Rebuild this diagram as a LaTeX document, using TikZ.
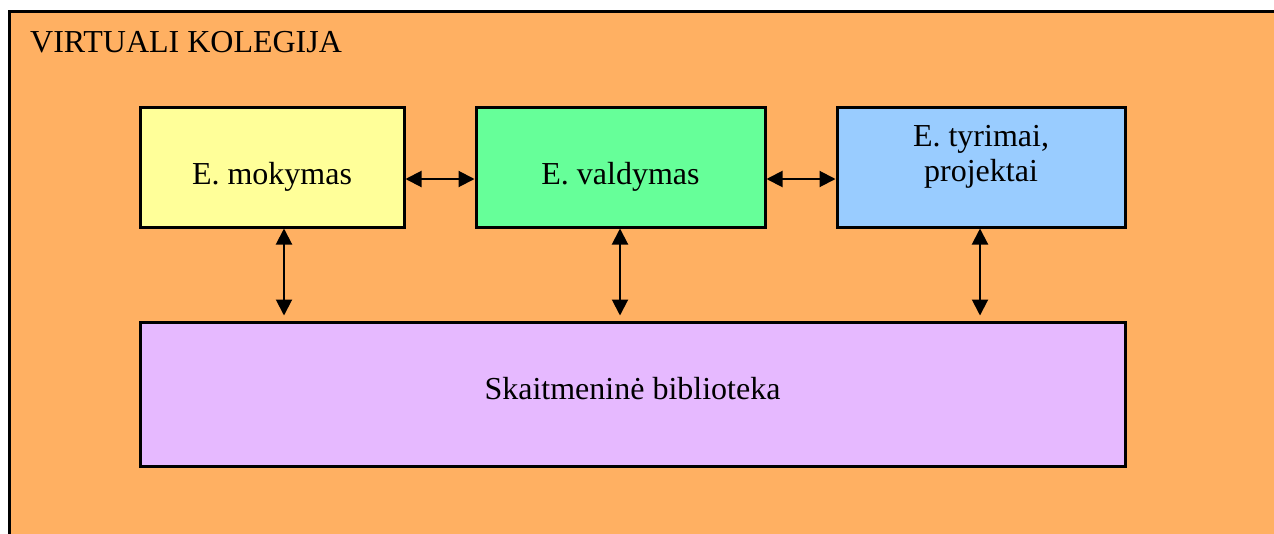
\documentclass[tikz,border=0pt]{standalone}
\usepackage{fontspec}
\setmainfont{Liberation Serif}
\usetikzlibrary{arrows.meta}

\definecolor{kolegija}{HTML}{FFB062}
\definecolor{mokymasfill}{HTML}{FFFF99}
\definecolor{valdymasfill}{HTML}{66FF99}
\definecolor{tyrimaifill}{HTML}{99CCFF}
\definecolor{bibliotekafill}{HTML}{E6B9FF}

\begin{document}
\begin{tikzpicture}[x=1pt, y=-1pt,
    block/.style={draw, line width=3pt, rectangle, inner sep=0pt,
        font=\fontsize{32}{35}\selectfont, align=center},
    link/.style={{Triangle[length=16pt,width=16pt]}-{Triangle[length=16pt,width=16pt]},
        line width=2pt}]
    \useasboundingbox (0,0) rectangle (1274,533);

    % Frame
    \draw[fill=kolegija, line width=3pt] (9,11) rectangle (1300,560);
    \node[anchor=base west, inner sep=0pt, font=\fontsize{32}{35}\selectfont] (title) at (30,52) {VIRTUALI KOLEGIJA};

    % Boxes
    \node[block, fill=mokymasfill, minimum width=264pt, minimum height=120pt,
        text height=34pt, text depth=0pt] (mokymas) at (272,167) {E. mokymas};
    \node[block, fill=valdymasfill, minimum width=289pt, minimum height=120pt,
        text height=34pt, text depth=0pt] (valdymas) at (620.5,167) {E. valdymas};
    \node[block, fill=tyrimaifill, minimum width=288pt, minimum height=120pt,
        text height=60pt, text depth=32pt] (tyrimai) at (981,167) {E. tyrimai,\\projektai};
    \node[block, fill=bibliotekafill, minimum width=985pt, minimum height=144pt,
        text height=10pt, text depth=0pt] (biblioteka) at (632.5,394) {Skaitmeninė biblioteka};

    % Arrows between boxes
    \draw[link] ([yshift=-12pt]mokymas.east) -- ([yshift=-12pt]valdymas.west);
    \draw[link] ([yshift=-12pt]valdymas.east) -- ([yshift=-12pt]tyrimai.west);

    % Arrows to the library
    \draw[link, shorten >=5pt] ([xshift=12pt]mokymas.south) -- ([xshift=12pt]mokymas.south |- biblioteka.north);
    \draw[link, shorten >=5pt] ([xshift=-0.5pt]valdymas.south) -- ([xshift=-0.5pt]valdymas.south |- biblioteka.north);
    \draw[link, shorten >=5pt] ([xshift=-1pt]tyrimai.south) -- ([xshift=-1pt]tyrimai.south |- biblioteka.north);
\end{tikzpicture}
\end{document}
